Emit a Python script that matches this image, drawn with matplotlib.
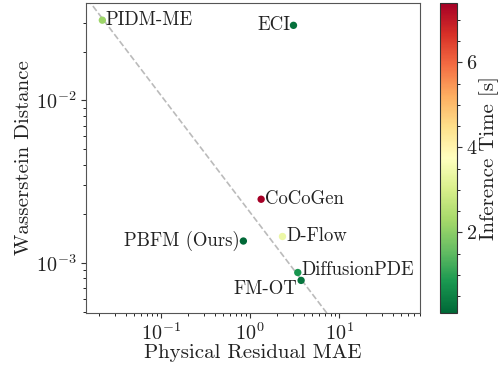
import matplotlib
matplotlib.use("Agg")
import matplotlib.pyplot as plt
import numpy as np
from matplotlib.colors import Normalize

plt.rcParams['font.family'] = ['cmr10', 'DejaVu Serif']
plt.rcParams['mathtext.fontset'] = 'cm'
plt.rcParams['axes.formatter.use_mathtext'] = True
plt.rcParams['axes.unicode_minus'] = False

methods = ["PIDM-ME", "ECI", "CoCoGen", "D-Flow", "PBFM (Ours)", "DiffusionPDE", "FM-OT"]
residual_mae = [0.0219, 3.07, 1.33, 2.31, 0.84, 3.43, 3.74]
wasserstein = [0.0312, 0.0290, 0.00246, 0.00145, 0.00136, 0.00087, 0.000778]
inference_time = [2.2, 0.25, 7.4, 3.4, 0.1, 0.8, 0.3]

# label placement: (dx, dy) in points, ha
label_pos = {
    "PIDM-ME": (2.5, 0, 'left'),
    "ECI": (-2.5, 0, 'right'),
    "CoCoGen": (2.5, 0, 'left'),
    "D-Flow": (2.5, 0, 'left'),
    "PBFM (Ours)": (-2.5, 0, 'right'),
    "DiffusionPDE": (2.5, 1.5, 'left'),
    "FM-OT": (-3, -6, 'right'),
}

# reference trend line: log10(y) = intercept + slope*log10(x)
trend_slope = -0.72
trend_intercept = -2.69

fig = plt.figure(figsize=(5.01, 3.68), dpi=100)
ax = fig.add_axes([0.1717, 0.1495, 0.6667, 0.8423])
cax = fig.add_axes([0.878, 0.1495, 0.0333, 0.8423])

norm = Normalize(vmin=min(inference_time), vmax=max(inference_time))
cmap = plt.get_cmap('RdYlGn_r')

xl = (0.01436, 81)
xs = np.logspace(np.log10(xl[0]), np.log10(xl[1]), 200)
ax.plot(xs, 10 ** (trend_intercept + trend_slope * np.log10(xs)), '--', color='#bbbbbb', lw=1.2, zorder=1)

sc = ax.scatter(residual_mae, wasserstein, c=inference_time, cmap=cmap, norm=norm, s=28, zorder=3, edgecolors='none')
for m, x, y in zip(methods, residual_mae, wasserstein):
    dx, dy, ha = label_pos[m]
    ax.annotate(m, (x, y), xytext=(dx, dy), textcoords='offset points', ha=ha, va='center',
                fontsize=13.5, color='#222222')

ax.set_xscale('log')
ax.set_yscale('log')
ax.set_xlim(*xl)
ax.set_ylim(0.00049, 0.0398)
ax.set_xlabel('Physical Residual MAE', fontsize=15, color='#222222', labelpad=0)
ax.set_ylabel('Wasserstein Distance', fontsize=15, color='#222222', labelpad=2)
ax.tick_params(labelsize=14.5, colors='#333333', labelcolor='#222222')
for s in ax.spines.values():
    s.set_color('#555555')

cb = fig.colorbar(sc, cax=cax)
cb.set_ticks([2, 4, 6])
cb.ax.minorticks_on()
cb.ax.yaxis.set_minor_locator(matplotlib.ticker.MultipleLocator(0.5))
cb.ax.tick_params(labelsize=14.5, colors='#333333', labelcolor='#222222')
cb.set_label('Inference Time [s]', fontsize=15, color='#222222', labelpad=1)
cb.outline.set_color('#333333')

fig.savefig('out.png', dpi=100)
